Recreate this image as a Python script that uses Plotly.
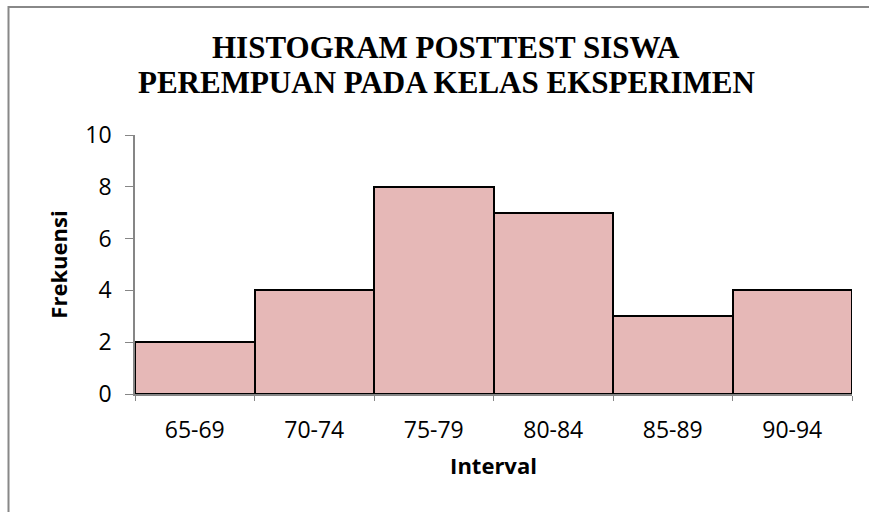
import plotly.graph_objects as go

intervals = ["65-69", "70-74", "75-79", "80-84", "85-89", "90-94"]
frekuensi = [2, 4, 8, 7, 3, 4]
title_lines = ["HISTOGRAM POSTTEST SISWA", "PEREMPUAN PADA KELAS EKSPERIMEN"]

W, H = 869, 512
L, R, T, B = 135, 17, 135, 118
pw, ph = W - L - R, H - T - B


def px_x(x):
    return (x - L) / pw


def px_y(y):
    return (H - B - y) / ph


fig = go.Figure(go.Bar(
    x=intervals, y=frekuensi,
    marker=dict(color="#E6B8B7", line=dict(color="black", width=2)),
    width=1.0,
))

tick_font = dict(family="Open Sans, Liberation Sans, sans-serif", size=23, color="black")
title_font = dict(family="Open Sans, Liberation Sans, sans-serif", size=22, color="black")
fig.update_layout(
    width=W, height=H,
    margin=dict(l=L, r=R, t=T, b=B),
    paper_bgcolor="white", plot_bgcolor="white",
    showlegend=False,
    bargap=0,
    xaxis=dict(
        type="category",
        showline=True, linecolor="#868686", linewidth=1.5,
        ticks="outside", tickson="boundaries", ticklen=5, tickcolor="#868686",
        tickfont=tick_font, ticklabelstandoff=15,
        title=dict(text="<b>Interval</b>", font=title_font, standoff=14),
        showgrid=False, zeroline=False,
    ),
    yaxis=dict(
        range=[0, 10], dtick=2,
        showline=True, linecolor="#868686", linewidth=1.5,
        ticks="outside", ticklen=8, tickcolor="#868686",
        tickfont=tick_font, ticklabelstandoff=9,
        title=dict(text="<b>Frekuensi</b>", font=title_font, standoff=12),
        showgrid=False, zeroline=False,
    ),
)

tfont = dict(family="Liberation Serif, Times New Roman, serif", size=31, color="black", weight="bold")
for line, yc in zip(title_lines, [47.5, 82.5]):
    fig.add_annotation(text=line, xref="paper", yref="paper",
                       x=px_x(446), y=px_y(yc), xanchor="center", yanchor="middle",
                       showarrow=False, font=tfont)

fig.add_shape(type="rect", xref="paper", yref="paper",
              x0=px_x(8.5), x1=1.5, y0=-1.0, y1=px_y(7),
              line=dict(color="#888888", width=2), fillcolor="rgba(0,0,0,0)", layer="below")

fig.write_html("out.html", config={"displayModeBar": False},
               post_script="document.body.style.margin='0';document.body.style.overflow='hidden';")
